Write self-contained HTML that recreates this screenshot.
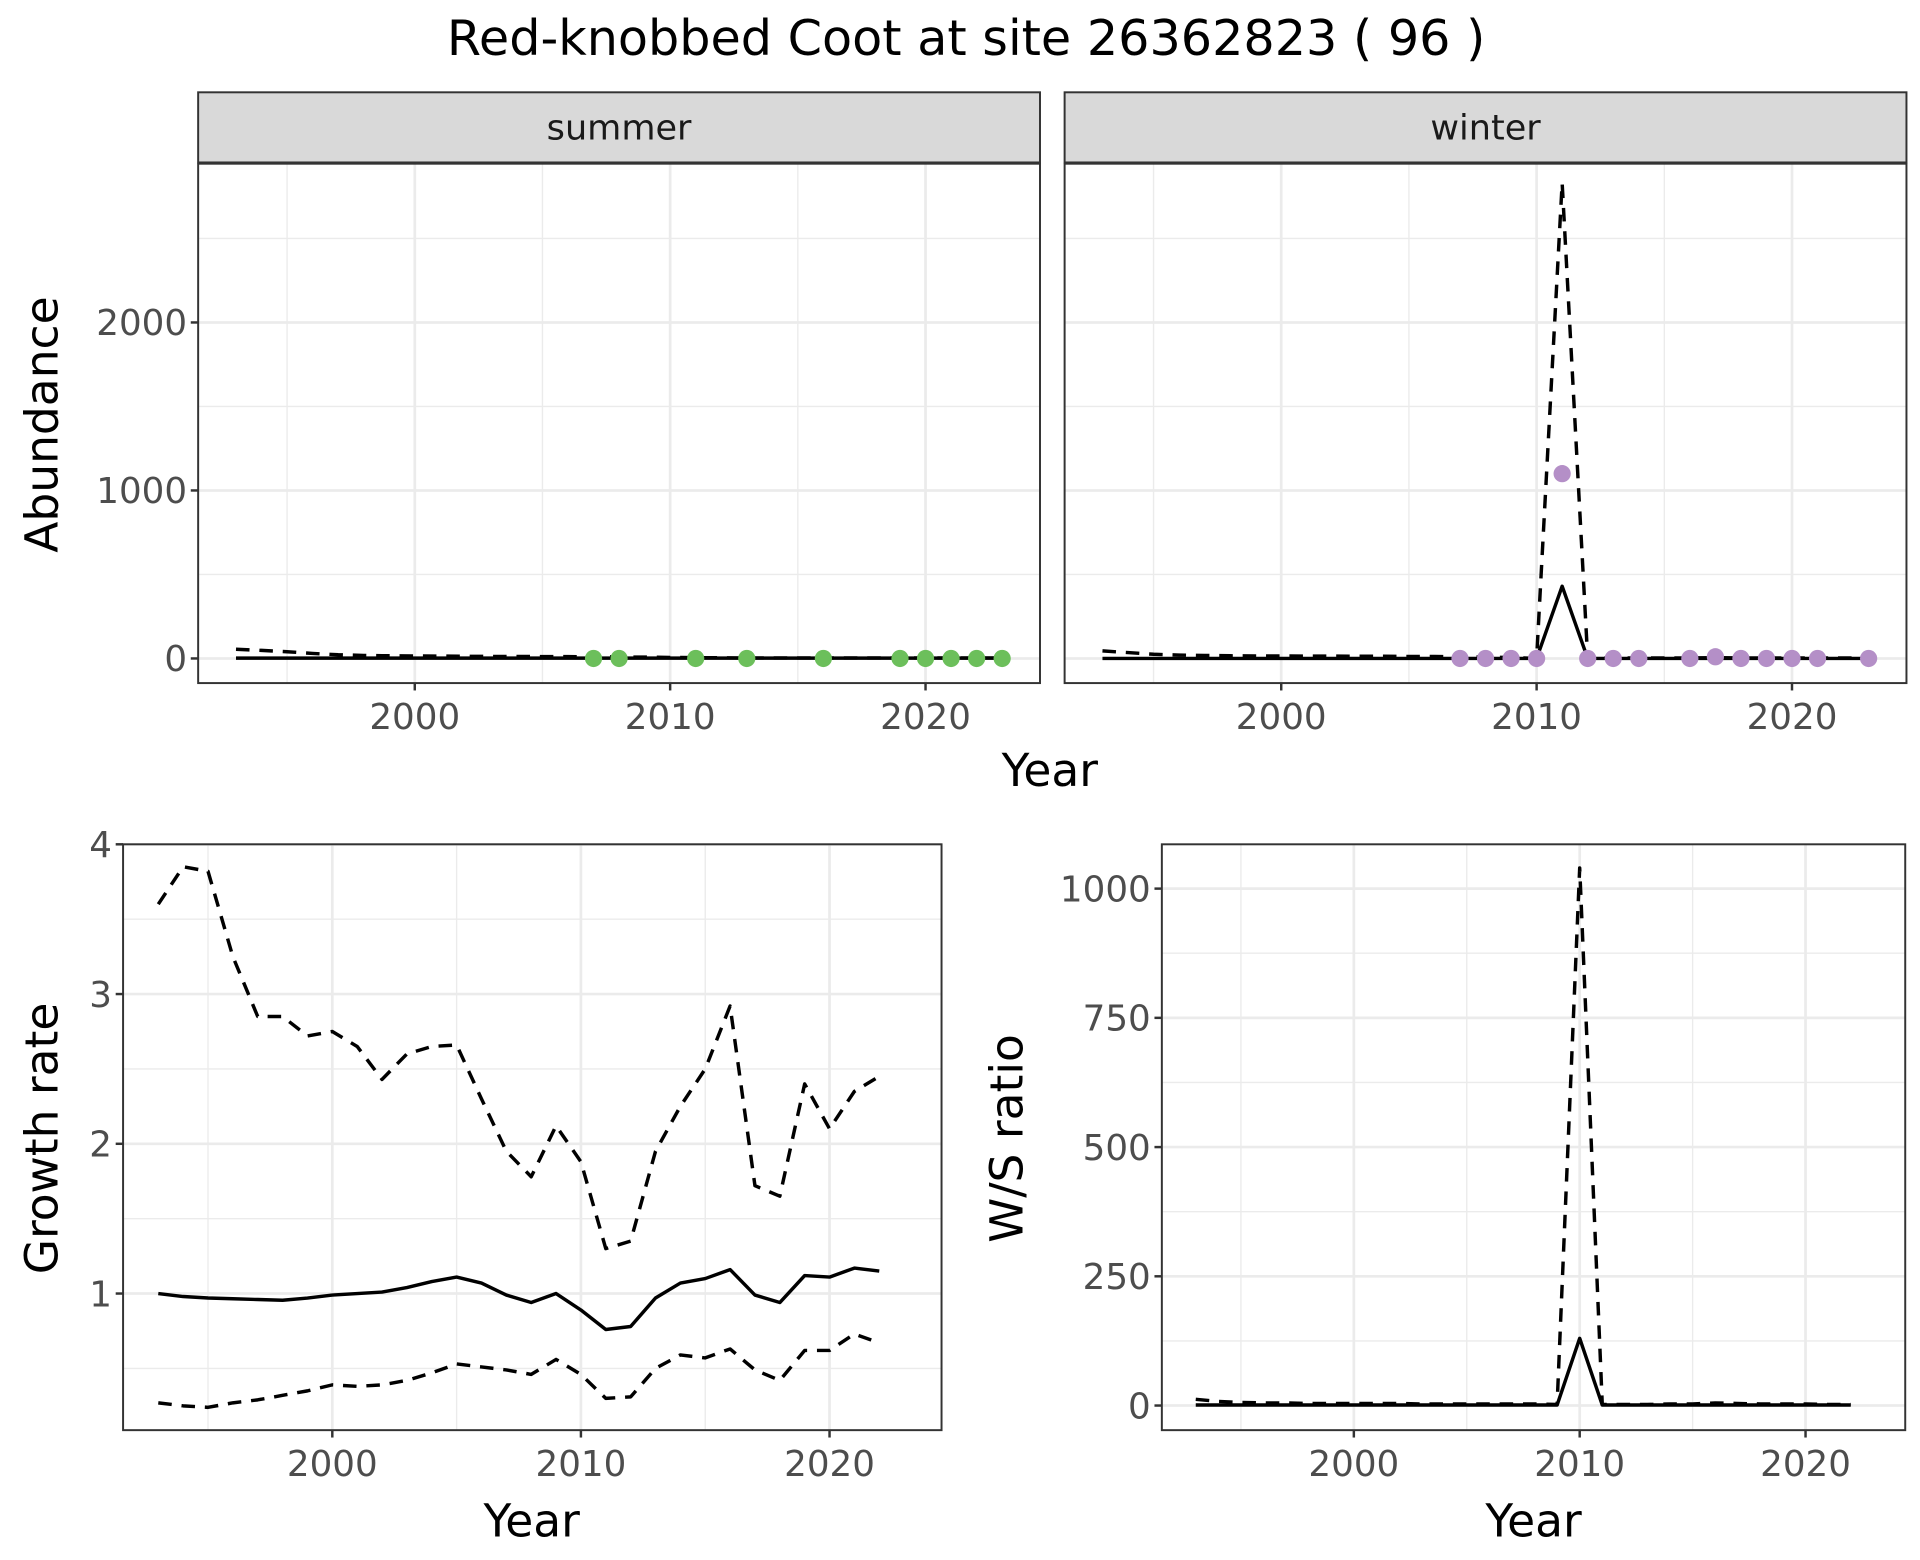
<!DOCTYPE html>
<html><head><meta charset="utf-8"><style>
html,body{margin:0;padding:0;background:#fff;}
svg{display:block;font-family:"DejaVu Sans","Liberation Sans",sans-serif;}
</style></head><body>
<svg id="chart" width="1920" height="1560" viewBox="0 0 1560 1267.5" xmlns="http://www.w3.org/2000/svg">
<text x="785" y="31" text-anchor="middle" dominant-baseline="central" font-size="40" fill="#000">Red-knobbed Coot at site 26362823 ( 96 )</text>
</svg>
<script>
const summerYears=[2007,2008,2011,2013,2016,2019,2020,2021,2022,2023];
const summerCounts=[0,0,0,0,0,0,0,0,0,0];
const winterYears=[2007,2008,2009,2010,2011,2012,2013,2014,2016,2017,2018,2019,2020,2021,2023];
const winterCounts=[0,0,0,0,1100,0,0,0,0,10,0,0,0,0,0];
const abYears=[1993,1994,1995,1996,1997,1998,1999,2000,2001,2002,2003,2004,2005,2006,2007,2008,2009,2010,2011,2012,2013,2014,2015,2016,2017,2018,2019,2020,2021,2022,2023];
const summerMid=[2,2,2,2,2,2,2,2,2,2,2,2,2,2,2,2,2,2,2,2,2,2,2,2,2,2,2,2,2,2,2];
const summerUpper=[55,48,40,30,22,18,16,15,14,13,12,12,11,11,10,9,8,6,5,4,3,3,3,3,3,3,3,3,3,3,3];
const winterMid=[0,0,0,0,0,0,0,0,0,0,0,0,0,0,0,0,0,0,430,0,0,0,0,0,0,0,0,0,0,0,0];
const winterUpper=[45,35,25,20,18,16,15,15,14,14,13,13,12,12,10,8,6,0,2830,0,3,3,3,3,5,3,3,3,3,3,3];
const grYears=[1993,1994,1995,1996,1997,1998,1999,2000,2001,2002,2003,2004,2005,2006,2007,2008,2009,2010,2011,2012,2013,2014,2015,2016,2017,2018,2019,2020,2021,2022];
const grMid=[1.0,0.98,0.97,0.965,0.96,0.955,0.97,0.99,1.0,1.01,1.04,1.08,1.11,1.07,0.99,0.94,1.0,0.89,0.76,0.78,0.97,1.07,1.1,1.16,0.99,0.94,1.12,1.11,1.17,1.15];
const grUpper=[3.6,3.85,3.82,3.25,2.85,2.85,2.72,2.75,2.65,2.43,2.6,2.65,2.66,2.3,1.95,1.78,2.12,1.88,1.3,1.35,1.95,2.25,2.5,2.92,1.72,1.65,2.4,2.1,2.35,2.45];
const grLower=[0.27,0.25,0.24,0.27,0.29,0.32,0.35,0.39,0.38,0.39,0.42,0.47,0.53,0.51,0.49,0.46,0.56,0.46,0.30,0.31,0.50,0.59,0.57,0.63,0.49,0.42,0.62,0.62,0.73,0.67];
const wsMid=[1,1,1,1,1,1,1,1,1,1,1,1,1,1,1,1,1,130,1,1,1,1,1,1,1,1,1,1,1,1];
const wsUpper=[12,8,6,5,5,4,4,4,4,4,3,3,3,3,3,3,2,1040,2,2,2,3,3,5,4,3,3,3,2,2];
const abTicks=[0,1000,2000];
const grTicks=[1,2,3,4];
const wsTicks=[0,250,500,750,1000];
const yearTicks=[2000,2010,2020];

const NS="http://www.w3.org/2000/svg";
const svg=document.getElementById('chart');
function mk(tag,attrs,parent){const e=document.createElementNS(NS,tag);for(const k in attrs)e.setAttribute(k,attrs[k]);(parent||svg).appendChild(e);return e;}
function lin(d0,d1,r0,r1){return v=>r0+(v-d0)/(d1-d0)*(r1-r0);}

function panel(name,L,R,T,B,xs,ys,yt,yMinor,showY){
  const g=mk('g',{});
  
  
  mk('rect',{x:L,y:T,width:R-L,height:B-T,fill:'#fff'},g);
  [1995,2005,2015].forEach(v=>mk('line',{x1:xs(v),x2:xs(v),y1:T,y2:B,stroke:'#ebebeb','stroke-width':1.1},g));
  yMinor.forEach(v=>mk('line',{x1:L,x2:R,y1:ys(v),y2:ys(v),stroke:'#ebebeb','stroke-width':1.1},g));
  yearTicks.forEach(v=>mk('line',{x1:xs(v),x2:xs(v),y1:T,y2:B,stroke:'#ebebeb','stroke-width':2.2},g));
  yt.forEach(v=>mk('line',{x1:L,x2:R,y1:ys(v),y2:ys(v),stroke:'#ebebeb','stroke-width':2.2},g));
  const ax=mk('g',{},g);
  
  
  yearTicks.forEach(v=>{
    mk('line',{x1:xs(v),x2:xs(v),y1:B,y2:B+6,stroke:'#333','stroke-width':2},ax);
    const t=mk('text',{x:xs(v),y:B+28,'text-anchor':'middle','dominant-baseline':'central','font-size':29,fill:'#4d4d4d'},ax);t.textContent=v;
  });
  if(showY){
    const ay=mk('g',{},g);
    
    
    yt.forEach(v=>{
      mk('line',{x1:L-6,x2:L,y1:ys(v),y2:ys(v),stroke:'#333','stroke-width':2},ay);
      const t=mk('text',{x:L-9,y:ys(v)+1,'text-anchor':'end','dominant-baseline':'central','font-size':29,fill:'#4d4d4d'},ay);t.textContent=v;
    });
  }
  return g;
}
function line(g,name,xsArr,vals,xs,ys,dashed){
  const d=xsArr.map((x,i)=>(i?'L':'M')+xs(x).toFixed(2)+','+ys(vals[i]).toFixed(2)).join('');
  const p=mk('path',{d:d,fill:'none',stroke:'#000','stroke-width':2.8,'stroke-linejoin':'round'},g);
  if(dashed)p.setAttribute('stroke-dasharray','11,8');
  
  
}
function pts(g,name,xsArr,vals,xs,ys,col){
  xsArr.forEach((x,i)=>{
    const c=mk('circle',{cx:xs(x),cy:ys(vals[i]),r:7,fill:col},g);
    
    
  });
}
function border(g,L,R,T,B){mk('rect',{x:L,y:T,width:R-L,height:B-T,fill:'none',stroke:'#333','stroke-width':1.6},g);}
function strip(name,L,R,label){
  const g=mk('g',{});
  
  
  mk('rect',{x:L,y:75,width:R-L,height:57,fill:'#d9d9d9',stroke:'#333','stroke-width':1.6},g);
  const t=mk('text',{x:(L+R)/2,y:104,'text-anchor':'middle','dominant-baseline':'central','font-size':28.5,fill:'#1a1a1a'},g);t.textContent=label;
}

const abY=lin(0,2000,535,262);
const abMinor=[500,1500,2500];
{
  const L=161,R=845,T=133,B=555,xs=lin(2000,2020,337,752);
  strip('summer',L,R,'summer');
  const g=panel('summer',L,R,T,B,xs,abY,abTicks,abMinor,true);
  line(g,'summer-upper-ci',abYears,summerUpper,xs,abY,true);
  line(g,'summer-trend',abYears,summerMid,xs,abY,false);
  pts(g,'summer-count-point',summerYears,summerCounts,xs,abY,'#6cbf5b');
  border(g,L,R,T,B);
}
{
  const L=865,R=1549,T=133,B=555,xs=lin(2000,2020,1041,1456);
  strip('winter',L,R,'winter');
  const g=panel('winter',L,R,T,B,xs,abY,abTicks,abMinor,false);
  line(g,'winter-upper-ci',abYears,winterUpper,xs,abY,true);
  line(g,'winter-trend',abYears,winterMid,xs,abY,false);
  pts(g,'winter-count-point',winterYears,winterCounts,xs,abY,'#b48fc7');
  border(g,L,R,T,B);
}
{
  const L=100,R=765,T=686,B=1162,xs=lin(2000,2020,270,674),ys=lin(1,4,1051,686);
  const g=panel('growth-rate',L,R,T,B,xs,ys,grTicks,[0.5,1.5,2.5,3.5],true);
  line(g,'growth-upper-ci',grYears,grUpper,xs,ys,true);
  line(g,'growth-lower-ci',grYears,grLower,xs,ys,true);
  line(g,'growth-trend',grYears,grMid,xs,ys,false);
  border(g,L,R,T,B);
}
{
  const L=944,R=1548,T=686,B=1162,xs=lin(2000,2020,1100,1467),ys=lin(0,1000,1142,722);
  const g=panel('ws-ratio',L,R,T,B,xs,ys,wsTicks,[125,375,625,875],true);
  line(g,'ws-upper-ci',grYears,wsUpper,xs,ys,true);
  line(g,'ws-trend',grYears,wsMid,xs,ys,false);
  border(g,L,R,T,B);
}
function label(name,txt,x,y,rot,size){
  const t=mk('text',{x:x,y:y,'text-anchor':'middle','dominant-baseline':'central','font-size':size||37,fill:'#000'});
  if(rot)t.setAttribute('transform','rotate(-90 '+x+' '+y+')');
  t.textContent=txt;
  
  
}
label('top-x-axis-title','Year',853,626);
label('abundance-y-axis-title','Abundance',34,345,true);
label('growth-x-axis-title','Year',432,1236);
label('growth-y-axis-title','Growth rate',34,925,true);
label('ws-x-axis-title','Year',1246,1236);
label('ws-y-axis-title','W/S ratio',818,925,true);
</script>
</body></html>
